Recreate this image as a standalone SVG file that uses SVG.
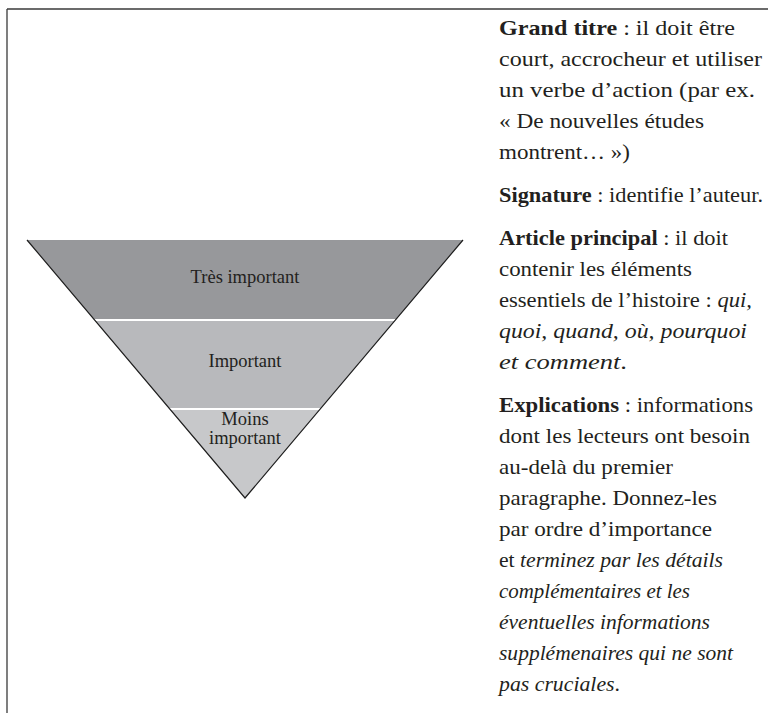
<svg xmlns="http://www.w3.org/2000/svg" width="768" height="713" viewBox="0 0 768 713">
  <style>
    .frame { stroke: #3a3a3a; stroke-width: 1.3; fill: none; }
    .edge { stroke: #1e1e1e; stroke-width: 1.2; fill: none; }
    .sep { stroke: #ffffff; stroke-width: 2; }
    .tier1 { fill: #97989b; }
    .tier2 { fill: #b8b9bc; }
    .tier3 { fill: #c7c8ca; }
    .lbl { font-family: "Liberation Serif", "DejaVu Serif", serif; font-size: 18.5px; fill: #231f20; text-anchor: middle; }
    .body { font-family: "Liberation Serif", "DejaVu Serif", serif; font-size: 22px; fill: #231f20; }
    .b { font-weight: bold; }
    .i { font-style: italic; }
  </style>

  <!-- frame: top rule and left rule -->
  <line class="frame" x1="7" y1="9" x2="768" y2="9"/>
  <line class="frame" x1="7" y1="9" x2="7" y2="713"/>

  <!-- inverted pyramid -->
  <g id="tier-tres-important">
    <polygon class="tier1" points="27,240 463,240 395.4,320 94.6,320"/>
    <text class="lbl" x="245" y="283">Très important</text>
  </g>
  <g id="tier-important">
    <polygon class="tier2" points="94.6,320 395.4,320 320.2,409 169.8,409"/>
    <text class="lbl" x="245" y="367">Important</text>
  </g>
  <g id="tier-moins-important">
    <polygon class="tier3" points="169.8,409 320.2,409 245,498"/>
    <text class="lbl" x="245" y="425">Moins</text>
    <text class="lbl" x="245" y="444">important</text>
  </g>
  <g id="pyramid-lines">
    <line class="sep" x1="94.6" y1="320" x2="395.4" y2="320"/>
    <line class="sep" x1="169.8" y1="409" x2="320.2" y2="409"/>
    <polyline class="edge" points="27,240 245,498 463,240"/>
  </g>

  <!-- explanatory paragraphs -->
  <g id="para-grand-titre" class="body">
    <text x="499" y="35" textLength="236" lengthAdjust="spacingAndGlyphs"><tspan class="b">Grand titre</tspan> : il doit être</text>
    <text x="499" y="66" textLength="263" lengthAdjust="spacingAndGlyphs">court, accrocheur et utiliser</text>
    <text x="499" y="97" textLength="256" lengthAdjust="spacingAndGlyphs">un verbe d’action (par ex.</text>
    <text x="499" y="128" textLength="205" lengthAdjust="spacingAndGlyphs">« De nouvelles études</text>
    <text x="499" y="159" textLength="131" lengthAdjust="spacingAndGlyphs">montrent… »)</text>
  </g>
  <g id="para-signature" class="body">
    <text x="499" y="202" textLength="264" lengthAdjust="spacingAndGlyphs"><tspan class="b">Signature</tspan> : identifie l’auteur.</text>
  </g>
  <g id="para-article" class="body">
    <text x="499" y="245" textLength="229" lengthAdjust="spacingAndGlyphs"><tspan class="b">Article principal</tspan> : il doit</text>
    <text x="499" y="276" textLength="193" lengthAdjust="spacingAndGlyphs">contenir les éléments</text>
    <text x="499" y="307" textLength="253" lengthAdjust="spacingAndGlyphs">essentiels de l’histoire : <tspan class="i">qui,</tspan></text>
    <text x="499" y="338" textLength="248" lengthAdjust="spacingAndGlyphs" class="i">quoi, quand, où, pourquoi</text>
    <text x="499" y="369" textLength="128" lengthAdjust="spacingAndGlyphs"><tspan class="i">et comment</tspan>.</text>
  </g>
  <g id="para-explications" class="body">
    <text x="499" y="412" textLength="254" lengthAdjust="spacingAndGlyphs"><tspan class="b">Explications</tspan> : informations</text>
    <text x="499" y="443" textLength="251" lengthAdjust="spacingAndGlyphs">dont les lecteurs ont besoin</text>
    <text x="499" y="474" textLength="174" lengthAdjust="spacingAndGlyphs">au-delà du premier</text>
    <text x="499" y="505" textLength="218" lengthAdjust="spacingAndGlyphs">paragraphe. Donnez-les</text>
    <text x="499" y="536" textLength="213" lengthAdjust="spacingAndGlyphs">par ordre d’importance</text>
    <text x="499" y="567" textLength="224" lengthAdjust="spacingAndGlyphs">et <tspan class="i">terminez par les détails</tspan></text>
    <text x="499" y="598" textLength="191" lengthAdjust="spacingAndGlyphs" class="i">complémentaires et les</text>
    <text x="499" y="629" textLength="211" lengthAdjust="spacingAndGlyphs" class="i">éventuelles informations</text>
    <text x="499" y="660" textLength="234" lengthAdjust="spacingAndGlyphs" class="i">supplémenaires qui ne sont</text>
    <text x="499" y="691" textLength="121" lengthAdjust="spacingAndGlyphs"><tspan class="i">pas cruciales</tspan>.</text>
  </g>
</svg>
